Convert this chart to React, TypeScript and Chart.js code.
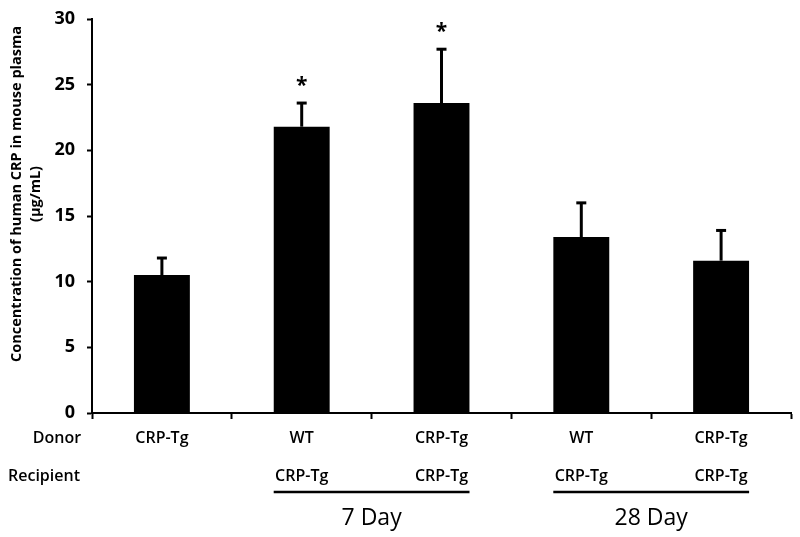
import React, { useEffect, useRef } from "react";
import { Chart, registerables } from "chart.js";

Chart.register(...registerables);

const groups = ["A", "B", "C", "D", "E"];
const means = [10.5, 21.8, 23.6, 13.4, 11.6];
const errors = [1.3, 1.8, 4.1, 2.6, 2.3];
const stars = [false, true, true, false, false];
const donors = ["CRP-Tg", "WT", "CRP-Tg", "WT", "CRP-Tg"];
const recipients = ["", "CRP-Tg", "CRP-Tg", "CRP-Tg", "CRP-Tg"];
const periods = [
  { label: "7 Day", from: 1, to: 2 },
  { label: "28 Day", from: 3, to: 4 },
];
const yTitle = ["Concentration of human CRP in mouse plasma", "(\u03bcg/mL)"];

const FONT = "'Open Sans', 'DejaVu Sans', sans-serif";

const overlay = {
  id: "overlay",
  afterDatasetsDraw(chart: any) {
    const ctx = chart.ctx;
    const x = chart.scales.x;
    const y = chart.scales.y;
    const meta = chart.getDatasetMeta(0);
    ctx.save();
    // error bars
    means.forEach((m, i) => {
      const bar = meta.data[i];
      const cx = bar.x;
      const top = y.getPixelForValue(m + errors[i]);
      const base = y.getPixelForValue(m);
      ctx.strokeStyle = "#000";
      ctx.lineWidth = 3;
      ctx.beginPath();
      ctx.moveTo(cx, base);
      ctx.lineTo(cx, top);
      ctx.stroke();
      ctx.beginPath();
      ctx.moveTo(cx - 5, top);
      ctx.lineTo(cx + 5, top);
      ctx.stroke();
      if (stars[i]) {
        ctx.fillStyle = "#000";
        ctx.font = `bold 21px ${FONT}`;
        ctx.textAlign = "center";
        ctx.textBaseline = "middle";
        ctx.fillText("*", cx, top - 17);
      }
    });
    // bottom labels
    ctx.fillStyle = "#000";
    ctx.font = `600 16px ${FONT}`;
    ctx.textBaseline = "middle";
    ctx.textAlign = "center";
    ctx.fillText("Donor", 57, 438);
    ctx.fillText("Recipient", 44, 476);
    groups.forEach((_, i) => {
      const cx = x.getPixelForValue(i);
      ctx.fillText(donors[i], cx, 438);
      if (recipients[i]) ctx.fillText(recipients[i], cx, 476);
    });
    periods.forEach((p) => {
      const x1 = meta.data[p.from].x - 28;
      const x2 = meta.data[p.to].x + 28;
      ctx.lineWidth = 2.5;
      ctx.beginPath();
      ctx.moveTo(x1, 492);
      ctx.lineTo(x2, 492);
      ctx.stroke();
      ctx.font = `23px ${FONT}`;
      ctx.fillText(p.label, (x1 + x2) / 2, 518);
    });
    // y title
    ctx.font = `bold 14.5px ${FONT}`;
    ctx.save();
    ctx.translate(17, 194);
    ctx.rotate(-Math.PI / 2);
    ctx.fillText(yTitle[0], 0, 0);
    ctx.restore();
    ctx.save();
    ctx.translate(36, 194);
    ctx.rotate(-Math.PI / 2);
    ctx.fillText(yTitle[1], 0, 0);
    ctx.restore();
    ctx.restore();
  },
};

export default function App() {
  const ref = useRef<HTMLCanvasElement>(null);
  useEffect(() => {
    const chart = new Chart(ref.current as HTMLCanvasElement, {
      type: "bar",
      data: {
        labels: groups,
        datasets: [
          {
            data: means,
            backgroundColor: "#000",
            borderWidth: 0,
            barPercentage: 0.8,
            categoryPercentage: 0.5,
          },
        ],
      },
      options: {
        animation: false,
        responsive: false,
        maintainAspectRatio: false,
        layout: { padding: { left: 0, top: 19, right: 9, bottom: 0 } },
        plugins: { legend: { display: false }, tooltip: { enabled: false } },
        scales: {
          x: {
            grid: {
              display: true,
              drawOnChartArea: false,
              drawTicks: true,
              tickLength: 6,
              tickWidth: 2,
              tickColor: "#000",
              offset: true,
            },
            border: { display: true, color: "#000", width: 2 },
            ticks: { display: false },
            afterFit(scale: any) {
              scale.height = 124;
            },
          },
          y: {
            min: 0,
            max: 30,
            ticks: {
              stepSize: 5,
              color: "#000",
              font: { family: FONT, size: 18, weight: "bold" },
              padding: 12,
            },
            grid: {
              drawOnChartArea: false,
              drawTicks: true,
              tickLength: 5,
              tickWidth: 2,
              tickColor: "#000",
            },
            border: { display: true, color: "#000", width: 2 },
            afterFit(scale: any) {
              scale.width = 92;
              scale.paddingTop = 0;
              scale.paddingBottom = 0;
            },
          },
        },
      },
      plugins: [overlay],
    });
    return () => chart.destroy();
  }, []);
  return (
    <div style={{ position: "fixed", left: 0, top: 0, width: 800, height: 537, background: "#fff" }}>
      <canvas ref={ref} width={800} height={537} style={{ width: 800, height: 537 }} />
    </div>
  );
}
